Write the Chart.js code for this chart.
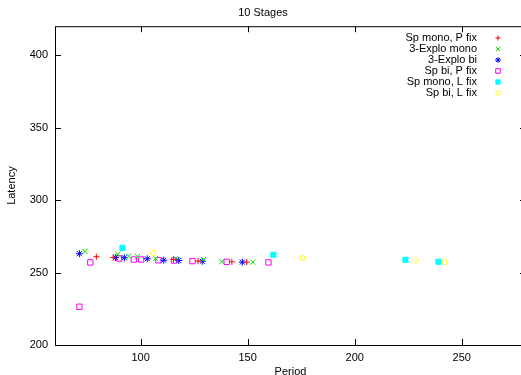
<!DOCTYPE html>
<html>
<head>
<meta charset="utf-8">
<script src="https://cdn.jsdelivr.net/npm/chart.js@4"></script>
<style>
  html, body { margin: 0; padding: 0; overflow: hidden; background: #fff; }
  #wrap { width: 536px; height: 375px; }
</style>
</head>
<body>
<div id="wrap"><canvas id="chart"></canvas></div>
<script>
// values, [period, latency]
const spMonoPFix = [[79.3, 260.9], [87.2, 260.4], [115.3, 259], [126.8, 257.9], [142.6, 257.4], [149.6, 257.2]];
const exploMono = [[74, 264.6], [89.3, 262.7], [94.4, 261.3], [98.5, 261], [107, 259.7], [116.4, 259.7], [129.3, 259], [137.9, 257.6], [152.4, 257.2]];
const exploBi = [[71.4, 263], [88.2, 260.4], [92.4, 260.2], [103.1, 259.5], [110.8, 258.5], [117.8, 258.3], [128.8, 257.8], [147.5, 257.2]];
const spBiPFix = [[71.4, 226.4], [76.5, 257], [89.9, 259.7], [96.8, 259], [100.2, 259], [108.3, 258.5], [115.6, 258.3], [124.2, 257.9], [140.2, 257.4], [159.7, 257]];
const spMonoLFix = [[91.5, 267], [162, 262.3], [223.7, 258.8], [239.1, 257.4]];
const spBiLFix = [[105.9, 263.5], [175.6, 260], [228.5, 258.3], [241.9, 257.2]];

const seriesNames = ['Sp mono, P fix', '3-Explo mono', '3-Explo bi', 'Sp bi, P fix', 'Sp mono, L fix', 'Sp bi, L fix'];
const xTicks = [100, 150, 200, 250];
const yTicks = [200, 250, 300, 350, 400];

const FONT = 'Liberation Sans, Arial, Helvetica, sans-serif';

function toPoints(arr) {
  return arr.map(p => ({ x: p[0], y: p[1] }));
}

const styles = [
  { pointStyle: 'cross', color: '#ff0000', radius: 3, fill: false },
  { pointStyle: 'crossRot', color: '#00e000', radius: 3.6, fill: false },
  { pointStyle: 'star', color: '#0000ff', radius: 3.5, fill: false },
  { pointStyle: 'rect', color: '#ff00ff', radius: 3.8, fill: false },
  { pointStyle: 'rect', color: '#00ffff', radius: 3.6, fill: true },
  { pointStyle: 'circle', color: '#ffff00', radius: 2.6, fill: false }
];

const allData = [spMonoPFix, exploMono, exploBi, spBiPFix, spMonoLFix, spBiLFix];

const datasets = allData.map((arr, i) => ({
  label: seriesNames[i],
  data: toPoints(arr),
  pointStyle: styles[i].pointStyle,
  pointRadius: styles[i].radius,
  pointHoverRadius: styles[i].radius,
  borderColor: styles[i].color,
  backgroundColor: styles[i].fill ? styles[i].color : 'rgba(0,0,0,0)',
  borderWidth: 1,
  showLine: false
}));

// gnuplot-like box with inward ticks
const framePlugin = {
  id: 'frame',
  beforeDatasetsDraw(chart) {
    const ctx = chart.ctx;
    const a = chart.chartArea;
    const xs = chart.scales.x, ys = chart.scales.y;
    ctx.save();
    ctx.strokeStyle = '#000';
    ctx.lineWidth = 1;
    ctx.strokeRect(a.left + 0.5, a.top + 0.5, a.right - a.left, a.bottom - a.top);
    ctx.beginPath();
    xTicks.forEach(v => {
      const px = Math.round(xs.getPixelForValue(v)) + 0.5;
      ctx.moveTo(px, a.bottom); ctx.lineTo(px, a.bottom - 6);
      ctx.moveTo(px, a.top); ctx.lineTo(px, a.top + 6);
    });
    yTicks.forEach(v => {
      const py = Math.round(ys.getPixelForValue(v)) + 0.5;
      ctx.moveTo(a.left, py); ctx.lineTo(a.left + 6, py);
      ctx.moveTo(a.right, py); ctx.lineTo(a.right - 6, py);
    });
    ctx.stroke();
    ctx.restore();
  }
};

// legend in the top right, text right-aligned, marker on the right
const keyPlugin = {
  id: 'key',
  afterDraw(chart) {
    const ctx = chart.ctx;
    ctx.save();
    ctx.font = '11px ' + FONT;
    ctx.textAlign = 'right';
    ctx.textBaseline = 'middle';
    chart.data.datasets.forEach((ds, i) => {
      const y = 38 + i * 11;
      ctx.fillStyle = '#000';
      ctx.fillText(ds.label, 477, y);
      ctx.strokeStyle = ds.borderColor;
      ctx.fillStyle = ds.backgroundColor;
      ctx.lineWidth = 1;
      Chart.helpers.drawPoint(ctx, {
        pointStyle: ds.pointStyle,
        radius: ds.pointRadius * 0.85,
        rotation: 0,
        borderWidth: 1
      }, 498, y);
    });
    ctx.restore();
  }
};

new Chart(document.getElementById('chart'), {
  type: 'scatter',
  data: { datasets: datasets },
  options: {
    responsive: true,
    maintainAspectRatio: false,
    animation: false,
    layout: { padding: { left: 0, right: 10, top: 0, bottom: 0 } },
    plugins: {
      legend: { display: false },
      tooltip: { enabled: false },
      title: {
        display: true,
        text: '10 Stages',
        color: '#000',
        font: { family: FONT, size: 11, weight: 'normal' },
        padding: { top: 6, bottom: 7 }
      }
    },
    scales: {
      x: {
        type: 'linear',
        min: 60,
        max: 280,
        afterBuildTicks: s => { s.ticks = xTicks.map(v => ({ value: v })); },
        afterFit: s => { s.height = 30; },
        grid: { display: false, drawTicks: false },
        border: { display: false },
        ticks: { color: '#000', padding: 6, font: { family: FONT, size: 11 }, maxRotation: 0 },
        title: {
          display: true,
          text: 'Period',
          color: '#000',
          font: { family: FONT, size: 11 },
          padding: { top: 0, bottom: -4 }
        }
      },
      y: {
        type: 'linear',
        min: 200,
        max: 420,
        afterBuildTicks: s => { s.ticks = yTicks.map(v => ({ value: v })); },
        afterFit: s => { s.width = 55; },
        grid: { display: false, drawTicks: false },
        border: { display: false },
        ticks: { color: '#000', padding: 7, font: { family: FONT, size: 11 } },
        title: {
          display: true,
          text: 'Latency',
          color: '#000',
          font: { family: FONT, size: 11 },
          padding: { top: 5, bottom: 0 }
        }
      }
    }
  },
  plugins: [framePlugin, keyPlugin]
});
</script>
</body>
</html>
